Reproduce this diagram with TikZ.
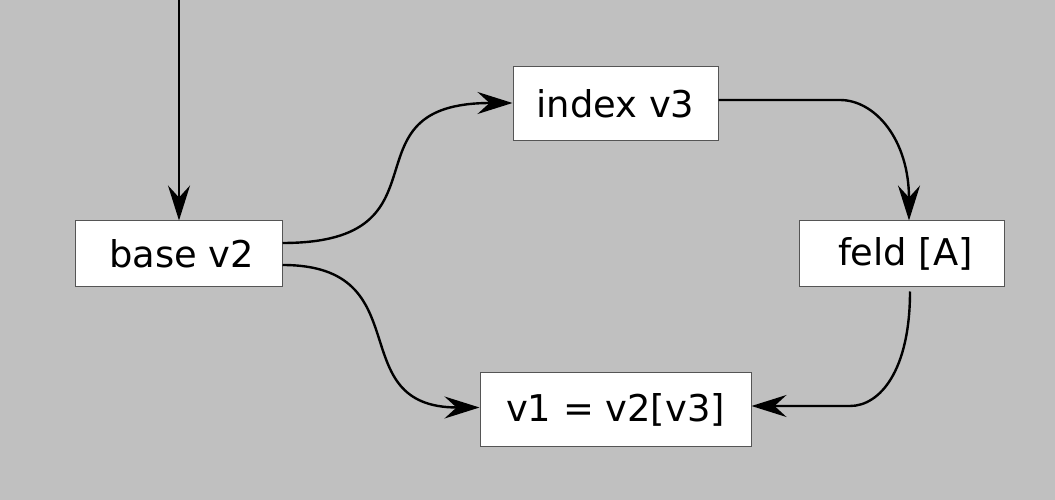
\documentclass[tikz,border=0pt]{standalone}
\usepackage{fontspec}
\setmainfont{DejaVu Sans}
\usetikzlibrary{arrows.meta}
\definecolor{bggray}{RGB}{192,192,192}
\definecolor{boxline}{RGB}{85,85,85}

\begin{document}
\begin{tikzpicture}[x=1bp, y=-1bp,
		box/.style={draw=boxline, line width=1bp, fill=white, inner sep=0pt,
			font=\fontsize{37}{44}\selectfont},
		flow/.style={line width=2.4bp, -{Stealth[length=35bp, width=22bp, inset=12bp]}}]
	% background
	\useasboundingbox (0,0) rectangle (1055,500);
	\fill[bggray] (-3,-3) rectangle (1058,503);
	% boxes
	\node[box, minimum width=206bp, minimum height=66bp] (base) at (179,254) {\hspace{5bp}base v2};
	\node[box, minimum width=205bp, minimum height=74bp] (index) at (615.5,104) {index v3};
	\node[box, minimum width=205bp, minimum height=66bp] (feld) at (901.5,254) {\hspace{8bp}feld [A]};
	\node[box, minimum width=271bp, minimum height=73bp] (res) at (615.5,409.5) {v1 = v2[v3]};
	% free end and bends
	\coordinate (entry) at (179,0);
	\coordinate (turn_1) at (840,100);
	\coordinate (turn_2) at (850,406);
	% edges
	\draw[flow] (entry) -- (base);
	\draw[flow] ([yshift=11bp]base.east)  % upper branch
		.. controls +(175,0) and +(-175,0) .. ([yshift=1bp]index.west);
	\draw[flow] ([yshift=-11bp]base.east)  % lower branch
		.. controls +(140,0) and +(-140,0) .. ([yshift=2bp]res.west);
	\draw[flow] ([yshift=4bp]index.east)
		-- (turn_1)
		.. controls +(35,0) and +(0,-81) .. ([xshift=7.5bp]feld.north);
	\draw[flow] ([xshift=8.5bp, yshift=-4bp]feld.south)
		.. controls +(0,79) and +(30,0) .. (turn_2)
		-- ([yshift=3.5bp]res.east);
\end{tikzpicture}
\end{document}
